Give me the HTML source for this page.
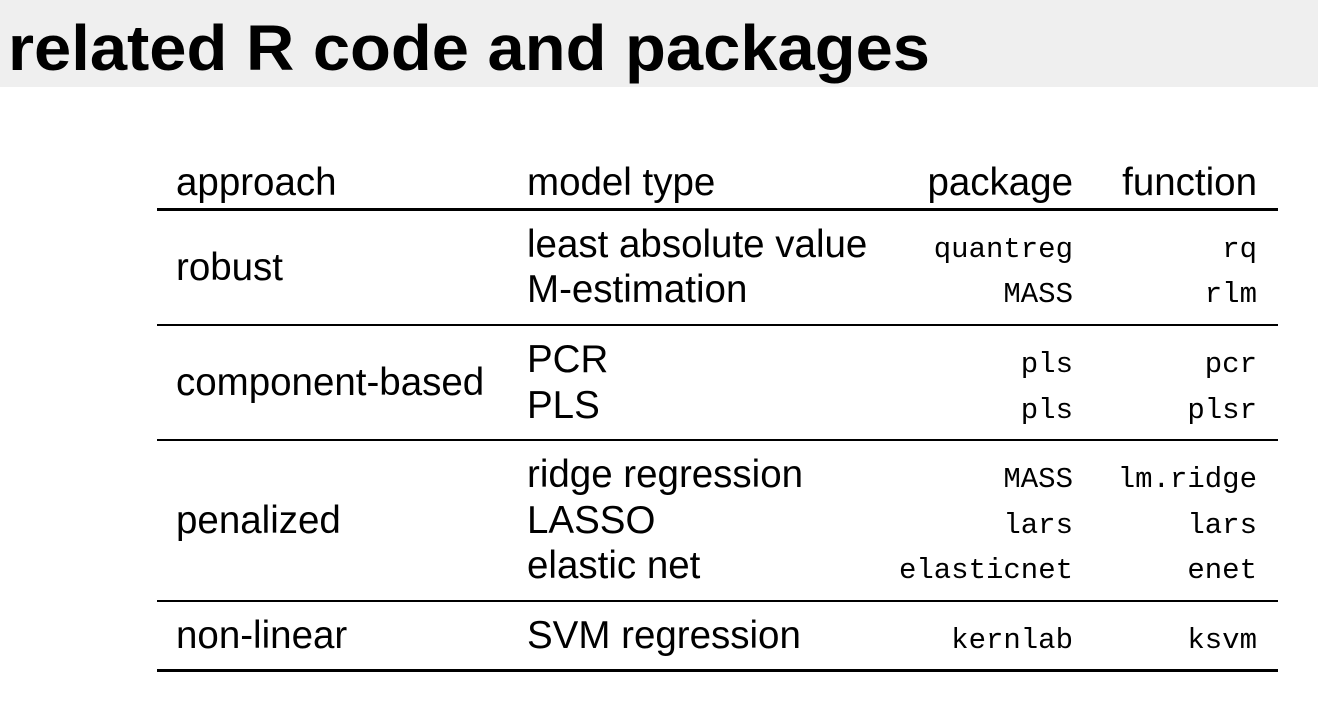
<!DOCTYPE html>
<html><head><meta charset="utf-8"><style>
html,body{margin:0;padding:0;background:#fff;}
svg{display:block;}
.s{font-family:"Liberation Sans",sans-serif;font-size:38.5px;fill:#000;}
.m{font-family:"Liberation Mono",monospace;font-size:29px;fill:#000;}
</style></head><body>
<svg width="1318" height="701" viewBox="0 0 1318 701">
<rect x="0" y="0" width="1318" height="87" fill="#efefef"/>
<text x="8" y="70" font-family="Liberation Sans,sans-serif" font-weight="bold" font-size="64" textLength="922" lengthAdjust="spacingAndGlyphs">related R code and packages</text>
<g>
<text class="s" x="176" y="195">approach</text>
<text class="s" x="527" y="195">model type</text>
<text class="s" x="1073" y="195" text-anchor="end">package</text>
<text class="s" x="1257" y="195" text-anchor="end">function</text>
<rect x="157" y="208" width="1121" height="3"/>
<text class="s" x="176" y="280">robust</text>
<text class="s" x="527" y="257">least absolute value</text>
<text class="m" x="1073" y="257" text-anchor="end">quantreg</text>
<text class="m" x="1257" y="257" text-anchor="end">rq</text>
<text class="s" x="527" y="302">M-estimation</text>
<text class="m" x="1073" y="302" text-anchor="end">MASS</text>
<text class="m" x="1257" y="302" text-anchor="end">rlm</text>
<rect x="157" y="324" width="1121" height="2"/>
<text class="s" x="176" y="395">component-based</text>
<text class="s" x="527" y="372">PCR</text>
<text class="m" x="1073" y="372" text-anchor="end">pls</text>
<text class="m" x="1257" y="372" text-anchor="end">pcr</text>
<text class="s" x="527" y="418">PLS</text>
<text class="m" x="1073" y="418" text-anchor="end">pls</text>
<text class="m" x="1257" y="418" text-anchor="end">plsr</text>
<rect x="157" y="439" width="1121" height="2"/>
<text class="s" x="176" y="533">penalized</text>
<text class="s" x="527" y="487">ridge regression</text>
<text class="m" x="1073" y="487" text-anchor="end">MASS</text>
<text class="m" x="1257" y="487" text-anchor="end">lm.ridge</text>
<text class="s" x="527" y="533">LASSO</text>
<text class="m" x="1073" y="533" text-anchor="end">lars</text>
<text class="m" x="1257" y="533" text-anchor="end">lars</text>
<text class="s" x="527" y="578">elastic net</text>
<text class="m" x="1073" y="578" text-anchor="end">elasticnet</text>
<text class="m" x="1257" y="578" text-anchor="end">enet</text>
<rect x="157" y="600" width="1121" height="2"/>
<text class="s" x="176" y="648">non-linear</text>
<text class="s" x="527" y="648">SVM regression</text>
<text class="m" x="1073" y="648" text-anchor="end">kernlab</text>
<text class="m" x="1257" y="648" text-anchor="end">ksvm</text>
<rect x="157" y="669" width="1121" height="3"/>
</g>
</svg>
</body></html>
